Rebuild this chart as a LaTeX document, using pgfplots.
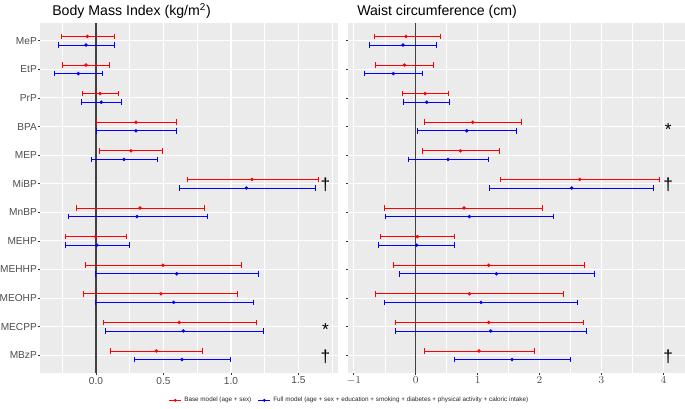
\documentclass[border=0pt]{standalone}
\usepackage{pgfplots}
\usepackage{pgfplotstable}
\pgfplotsset{compat=1.18}
\usetikzlibrary{arrows.meta}
\usepackage{fontspec}
\setmainfont{Liberation Sans}

\definecolor{panelbg}{HTML}{EBEBEB}
\definecolor{ticktext}{HTML}{4D4D4D}
\definecolor{tickline}{HTML}{333333}

% columns: category index, lower CI, estimate, upper CI
\pgfplotstableread{
i lo est hi
1 -0.262 -0.064 0.141
2 -0.249 -0.074 0.106
3 -0.106 0.030 0.170
4 0.002 0.296 0.600
5 0.022 0.259 0.499
6 0.672 1.156 1.652
7 -0.146 0.326 0.810
8 -0.232 -0.003 0.232
9 -0.079 0.496 1.084
10 -0.094 0.481 1.049
11 0.052 0.617 1.190
12 0.106 0.447 0.790
}\bmibase
\pgfplotstableread{
i lo est hi
1 -0.281 -0.074 0.141
2 -0.309 -0.131 0.054
3 -0.108 0.039 0.190
4 0.002 0.296 0.600
5 -0.040 0.207 0.462
6 0.615 1.114 1.630
7 -0.210 0.304 0.832
8 -0.232 0.007 0.252
9 -0.010 0.598 1.210
10 -0.010 0.575 1.173
11 0.064 0.647 1.242
12 0.281 0.637 1.000
}\bmifull
\pgfplotstableread{
i lo est hi
1 -0.679 -0.156 0.404
2 -0.652 -0.183 0.291
3 -0.226 0.151 0.544
4 0.140 0.921 1.723
5 0.097 0.722 1.368
6 1.362 2.649 3.947
7 -0.506 0.781 2.062
8 -0.582 0.027 0.641
9 -0.366 1.179 2.730
10 -0.652 0.867 2.391
11 -0.339 1.179 2.719
12 0.135 1.023 1.933
}\wcbase
\pgfplotstableread{
i lo est hi
1 -0.749 -0.205 0.350
2 -0.835 -0.361 0.124
3 -0.199 0.178 0.560
4 0.027 0.824 1.632
5 -0.124 0.522 1.190
6 1.185 2.520 3.856
7 -0.490 0.867 2.235
8 -0.603 0.016 0.641
9 -0.269 1.303 2.892
10 -0.506 1.055 2.617
11 -0.328 1.212 2.762
12 0.614 1.556 2.515
}\wcfull

\tikzset{capbar/.style={arrows={Bar[width=4.2pt]-Bar[width=4.2pt]}}}

\pgfplotsset{
  panel/.style={
    scale only axis, height=262.5pt,
    axis background/.style={fill=panelbg},
    axis line style={draw=none},
    ymin=0.38, ymax=12.62, y dir=reverse,
    ytick={1,...,12},
    xmajorgrids, xminorgrids, ymajorgrids,
    major grid style={white, line width=0.8pt},
    minor grid style={white, line width=0.4pt},
    tick align=outside, major tick length=1.6pt, minor tick length=0pt,
    xtick pos=bottom, ytick pos=left,
    tick style={tickline, line width=0.5pt},
    ticklabel style={font=\fontsize{7.6}{8}\selectfont, text=ticktext},
    yticklabel style={inner sep=0.6pt},
    xticklabel style={inner sep=1.2pt},
    clip=false,
  },
  % confidence interval: a horizontal segment from lo to hi with end caps
  cibar/.style={forget plot, #1, line width=0.7pt, no markers,
    quiver={u=\thisrow{hi}-\thisrow{lo}, v=0,
      every arrow/.append style={capbar}}},
  cipt/.style={forget plot, only marks, mark=*, mark size=1.1pt, #1},
}

\begin{document}
\begin{tikzpicture}[x=1pt,y=1pt]
  % left panel: BMI
  \begin{axis}[panel, at={(30pt,26.25pt)}, anchor=south west, width=223.5pt,
      xmin=-0.415, xmax=1.793,
      xtick={0,0.5,1,1.5}, xticklabels={0.0,0.5,1.0,1.5},
      minor xtick={-0.25,0.25,0.75,1.25,1.75},
      yticklabels={MeP,EtP,PrP,BPA,MEP,MiBP,MnBP,MEHP,MEHHP,MEOHP,MECPP,MBzP},
      legend style={at={(1.04,-0.078)}, anchor=center, draw=none, fill=none,
        font=\fontsize{4.75}{5}\selectfont, text=black!85, legend columns=2,
        /tikz/every even column/.append style={column sep=3pt}},
      legend image code/.code={\draw[#1, line width=0.5pt] (0pt,0pt) -- (9pt,0pt); \fill[#1] (4.5pt,0pt) circle (0.9pt);},
    ]
    \addplot[forget plot, black!75, line width=0.9pt] coordinates {(0,0.38) (0,12.62)};
    \addplot[cibar=red] table[x=lo, y expr=\thisrow{i}-0.15] {\bmibase};
    \addplot[cipt=red] table[x=est, y expr=\thisrow{i}-0.15] {\bmibase};
    \addplot[cibar=blue] table[x=lo, y expr=\thisrow{i}+0.15] {\bmifull};
    \addplot[cipt=blue] table[x=est, y expr=\thisrow{i}+0.15] {\bmifull};
    \addlegendimage{red}
    \addlegendentry{Base model (age + sex)}
    \addlegendimage{blue}
    \addlegendentry{Full model (age + sex + education + smoking + diabetes + physical activity + caloric intake)}
    \node[font=\fontsize{13}{13}\selectfont] at (axis cs:1.7,6.05) {†};
    \node[font=\fontsize{13}{13}\selectfont] at (axis cs:1.7,11.1) {*};
    \node[font=\fontsize{13}{13}\selectfont] at (axis cs:1.7,12.05) {†};
  \end{axis}
  % right panel: waist circumference
  \begin{axis}[panel, at={(261pt,26.25pt)}, anchor=south west, width=252.75pt,
      xmin=-1.094, xmax=4.35,
      xtick={-1,0,1,2,3,4},
      minor xtick={-0.5,0.5,1.5,2.5,3.5},
      yticklabels={},
    ]
    \addplot[forget plot, black!75, line width=0.9pt] coordinates {(0,0.38) (0,12.62)};
    \addplot[cibar=red] table[x=lo, y expr=\thisrow{i}-0.15] {\wcbase};
    \addplot[cipt=red] table[x=est, y expr=\thisrow{i}-0.15] {\wcbase};
    \addplot[cibar=blue] table[x=lo, y expr=\thisrow{i}+0.15] {\wcfull};
    \addplot[cipt=blue] table[x=est, y expr=\thisrow{i}+0.15] {\wcfull};
    \node[font=\fontsize{13}{13}\selectfont] at (axis cs:4.08,4.1) {*};
    \node[font=\fontsize{13}{13}\selectfont] at (axis cs:4.08,6.05) {†};
    \node[font=\fontsize{13}{13}\selectfont] at (axis cs:4.08,12.05) {†};
  \end{axis}
  \node[anchor=base west, inner sep=0pt, font=\fontsize{10.6}{12}\selectfont] at (39pt,294pt) {Body Mass Index (kg/m\textsuperscript{2})};
  \node[anchor=base west, inner sep=0pt, font=\fontsize{10.6}{12}\selectfont] at (267.75pt,294pt) {Waist circumference (cm)};
  \pgfresetboundingbox
  \path (0,0) rectangle (513.75pt,306pt);
\end{tikzpicture}
\end{document}
